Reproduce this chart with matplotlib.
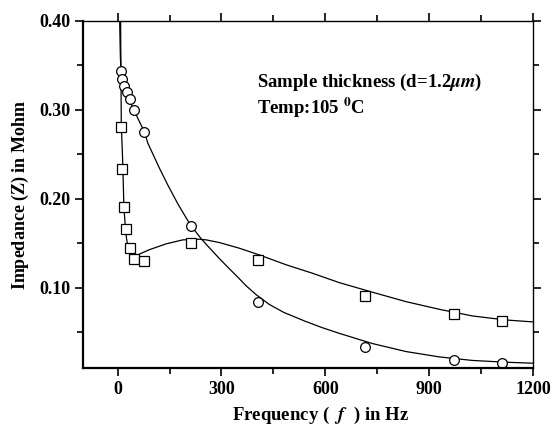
import numpy as np
import matplotlib
matplotlib.use("Agg")
import matplotlib.pyplot as plt
from matplotlib.ticker import MultipleLocator

# measured points (frequency in Hz, impedance in Mohm)
freq_circ = [9, 13, 18, 26, 35, 48, 77, 213, 405, 715, 973, 1109]
z_circ = [0.344, 0.335, 0.327, 0.320, 0.312, 0.300, 0.275, 0.170, 0.084, 0.034, 0.019, 0.0155]

freq_sq = [11, 14, 19, 23, 35, 48, 76, 213, 405, 715, 973, 1109]
z_sq = [0.281, 0.234, 0.191, 0.166, 0.145, 0.133, 0.130, 0.150, 0.131, 0.091, 0.071, 0.063]

# fitted curves
fit_circ_x = [6, 8, 10, 14, 20, 30, 48, 78, 87, 121, 145, 174, 203, 222, 241, 256, 275,
              294, 323, 350, 371, 400, 438, 480, 539, 590, 640, 736, 833, 929, 1025,
              1121, 1200]
fit_circ_y = [0.400, 0.360, 0.343, 0.334, 0.325, 0.315, 0.299, 0.275, 0.263, 0.2345,
              0.2157, 0.1945, 0.1755, 0.165, 0.1555, 0.149, 0.141, 0.133, 0.1215, 0.111,
              0.1025, 0.0925, 0.0815, 0.0725, 0.063, 0.0555, 0.049, 0.0375, 0.0285,
              0.0225, 0.0185, 0.0165, 0.0154]

fit_sq_x = [8.7, 10.7, 13.6, 15.3, 18.2, 23, 26, 30, 36, 44, 52, 63, 92, 140, 188, 236,
            256, 294, 352, 410, 487, 563, 640, 736, 833, 929, 1025, 1121, 1200]
fit_sq_y = [0.400, 0.283, 0.255, 0.2345, 0.191, 0.165, 0.155, 0.146, 0.140, 0.137, 0.136,
            0.138, 0.143, 0.1495, 0.154, 0.1547, 0.154, 0.151, 0.1446, 0.137, 0.126,
            0.1165, 0.106, 0.0952, 0.0846, 0.076, 0.0685, 0.064, 0.0618]

plt.rcParams["font.family"] = "Liberation Serif"
plt.rcParams["font.weight"] = "bold"
plt.rcParams["mathtext.fontset"] = "stix"

fig = plt.figure(figsize=(5.55, 4.25), dpi=100)
ax = fig.add_axes([0.1495, 0.1341, 0.8109, 0.8165])

ax.plot(fit_circ_x, fit_circ_y, color="black", lw=0.9)
ax.plot(fit_sq_x, fit_sq_y, color="black", lw=0.9)
ax.plot(freq_circ, z_circ, linestyle="none", marker="o", ms=7, mfc="white",
        mec="black", mew=0.9)
ax.plot(freq_sq, z_sq, linestyle="none", marker="s", ms=6.5, mfc="white",
        mec="black", mew=0.9)

ax.set_xlim(-100, 1200)
ax.set_ylim(0.01, 0.40)
ax.set_xticks([0, 300, 600, 900, 1200])
ax.set_yticks([0.10, 0.20, 0.30, 0.40])
ax.set_yticklabels(["0.10", "0.20", "0.30", "0.40"])
ax.xaxis.set_minor_locator(MultipleLocator(150))
ax.yaxis.set_minor_locator(MultipleLocator(0.05))
ax.tick_params(which="both", direction="out", top=True, right=True,
               labelsize=13, width=1.2, pad=3)
ax.tick_params(which="major", length=6)
ax.tick_params(which="minor", length=4)
for lab in ax.get_xticklabels() + ax.get_yticklabels():
    lab.set_fontweight("bold")
for side in ["left", "bottom"]:
    ax.spines[side].set_linewidth(1.6)
for side in ["top", "right"]:
    ax.spines[side].set_linewidth(1.0)

ax.set_xlabel(r"Frequency (  $\mathit{f}$  ) in Hz", fontsize=13.5, fontweight="bold")
ax.xaxis.set_label_coords(0.527, -0.105)
ax.set_ylabel(r"Impedance ($\mathbf{Z}$) in Mohm", fontsize=13, fontweight="bold",
              labelpad=6)

ax.text(0.387, 0.824, r"Sample thickness (d=1.2$\mu m$)", transform=ax.transAxes,
        fontsize=13.5, fontweight="bold", va="center")
ax.text(0.387, 0.749, r"Temp:105 $^{\mathbf{0}}$C", transform=ax.transAxes,
        fontsize=13.5, fontweight="bold", va="center")

fig.savefig("out.png", dpi=100)
